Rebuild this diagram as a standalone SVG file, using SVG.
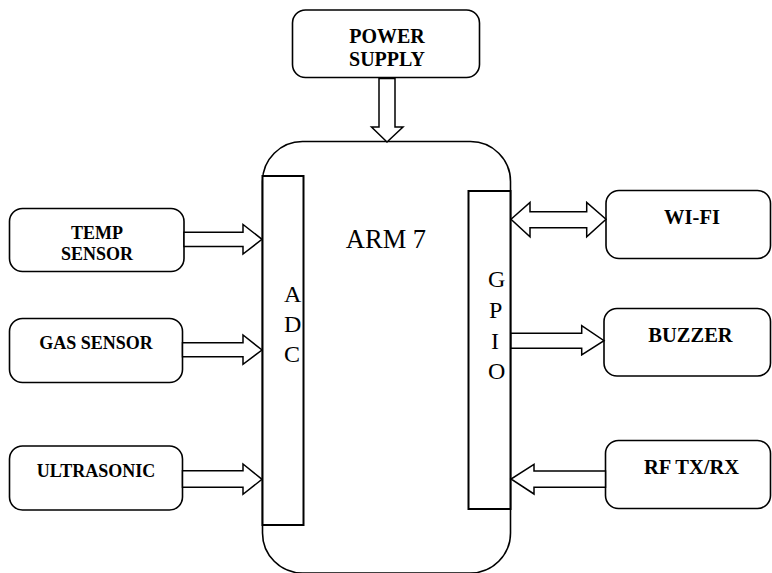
<svg xmlns="http://www.w3.org/2000/svg" width="772" height="573" viewBox="0 0 772 573">
<style>
.box{fill:#fff;stroke:#000;stroke-width:1.6}
.blk{fill:#fff;stroke:#000;stroke-width:2}
.arw{fill:#fff;stroke:#000;stroke-width:1.5;stroke-linejoin:miter}
.lbl{font-family:'Liberation Serif','DejaVu Serif',serif;font-weight:bold;fill:#000;text-anchor:middle}
.big{font-family:'Liberation Serif','DejaVu Serif',serif;fill:#000}
</style>
<rect width="772" height="573" fill="#fff"/>
<g id="arm7">
<rect class="box" x="262.5" y="141.5" width="248" height="431.5" rx="40" ry="40"/>
<text class="big" x="386" y="248" font-size="26.5" text-anchor="middle">ARM 7</text>
</g>
<g id="adc">
<rect class="blk" x="262.5" y="176" width="41" height="349"/>
<text class="big" x="284" y="302" font-size="24">A</text>
<text class="big" x="284" y="332" font-size="24">D</text>
<text class="big" x="284" y="362" font-size="24">C</text>
</g>
<g id="gpio">
<rect class="blk" x="468.5" y="191" width="42" height="318"/>
<text class="big" x="488" y="287" font-size="24">G</text>
<text class="big" x="489" y="318" font-size="24">P</text>
<text class="big" x="491" y="349" font-size="24">I</text>
<text class="big" x="488" y="379" font-size="24">O</text>
</g>
<g id="power-supply">
<rect class="box" x="292.5" y="10" width="187" height="67.5" rx="13" ry="13"/>
<text class="lbl" x="387" y="43" font-size="20">POWER</text>
<text class="lbl" x="387" y="66" font-size="20">SUPPLY</text>
</g>
<g id="temp-sensor">
<rect class="box" x="9.5" y="208.5" width="174.5" height="63" rx="13" ry="13"/>
<text class="lbl" x="97" y="239" font-size="18">TEMP</text>
<text class="lbl" x="97" y="260" font-size="18">SENSOR</text>
</g>
<g id="gas-sensor">
<rect class="box" x="9.5" y="318.5" width="173" height="64" rx="13" ry="13"/>
<text class="lbl" x="96" y="348.5" font-size="18">GAS SENSOR</text>
</g>
<g id="ultrasonic">
<rect class="box" x="9.5" y="446" width="173" height="64" rx="13" ry="13"/>
<text class="lbl" x="96" y="477" font-size="18">ULTRASONIC</text>
</g>
<g id="wifi">
<rect class="box" x="606" y="190.5" width="164.5" height="68" rx="13" ry="13"/>
<text class="lbl" x="692" y="223.5" font-size="20.5">WI-FI</text>
</g>
<g id="buzzer">
<rect class="box" x="604" y="308.5" width="166.5" height="67.5" rx="13" ry="13"/>
<text class="lbl" x="690.5" y="342" font-size="20.5">BUZZER</text>
</g>
<g id="rf-txrx">
<rect class="box" x="605.5" y="440.5" width="165" height="68" rx="13" ry="13"/>
<text class="lbl" x="691.5" y="473.5" font-size="20.5">RF TX/RX</text>
</g>
<g id="connectors">
<polygon class="arw" points="379,78.5 379,127 371.5,127 387,142 403,127 395,127 395,78.5"/>
<polygon class="arw" points="184,232.3 243,232.3 243,224.5 262,239.3 243,254 243,246.5 184,246.5"/>
<polygon class="arw" points="182.5,342.7 243,342.7 243,335 262,350 243,364.3 243,356.7 182.5,356.7"/>
<polygon class="arw" points="182.5,470.7 243,470.7 243,464 262,479.3 243,494.3 243,487.3 182.5,487.3"/>
<polygon class="arw" points="511,219.3 530,202.5 530,211.7 586.7,211.7 586.7,202.5 606,219.3 586.7,236.7 586.7,227.7 530,227.7 530,236.7"/>
<polygon class="arw" points="511,333.3 581.7,333.3 581.7,325.7 604,340.7 581.7,355 581.7,348.3 511,348.3"/>
<polygon class="arw" points="605.5,471 534,471 534,464.3 511,479 534,494 534,487.3 605.5,487.3"/>
</g>
</svg>
